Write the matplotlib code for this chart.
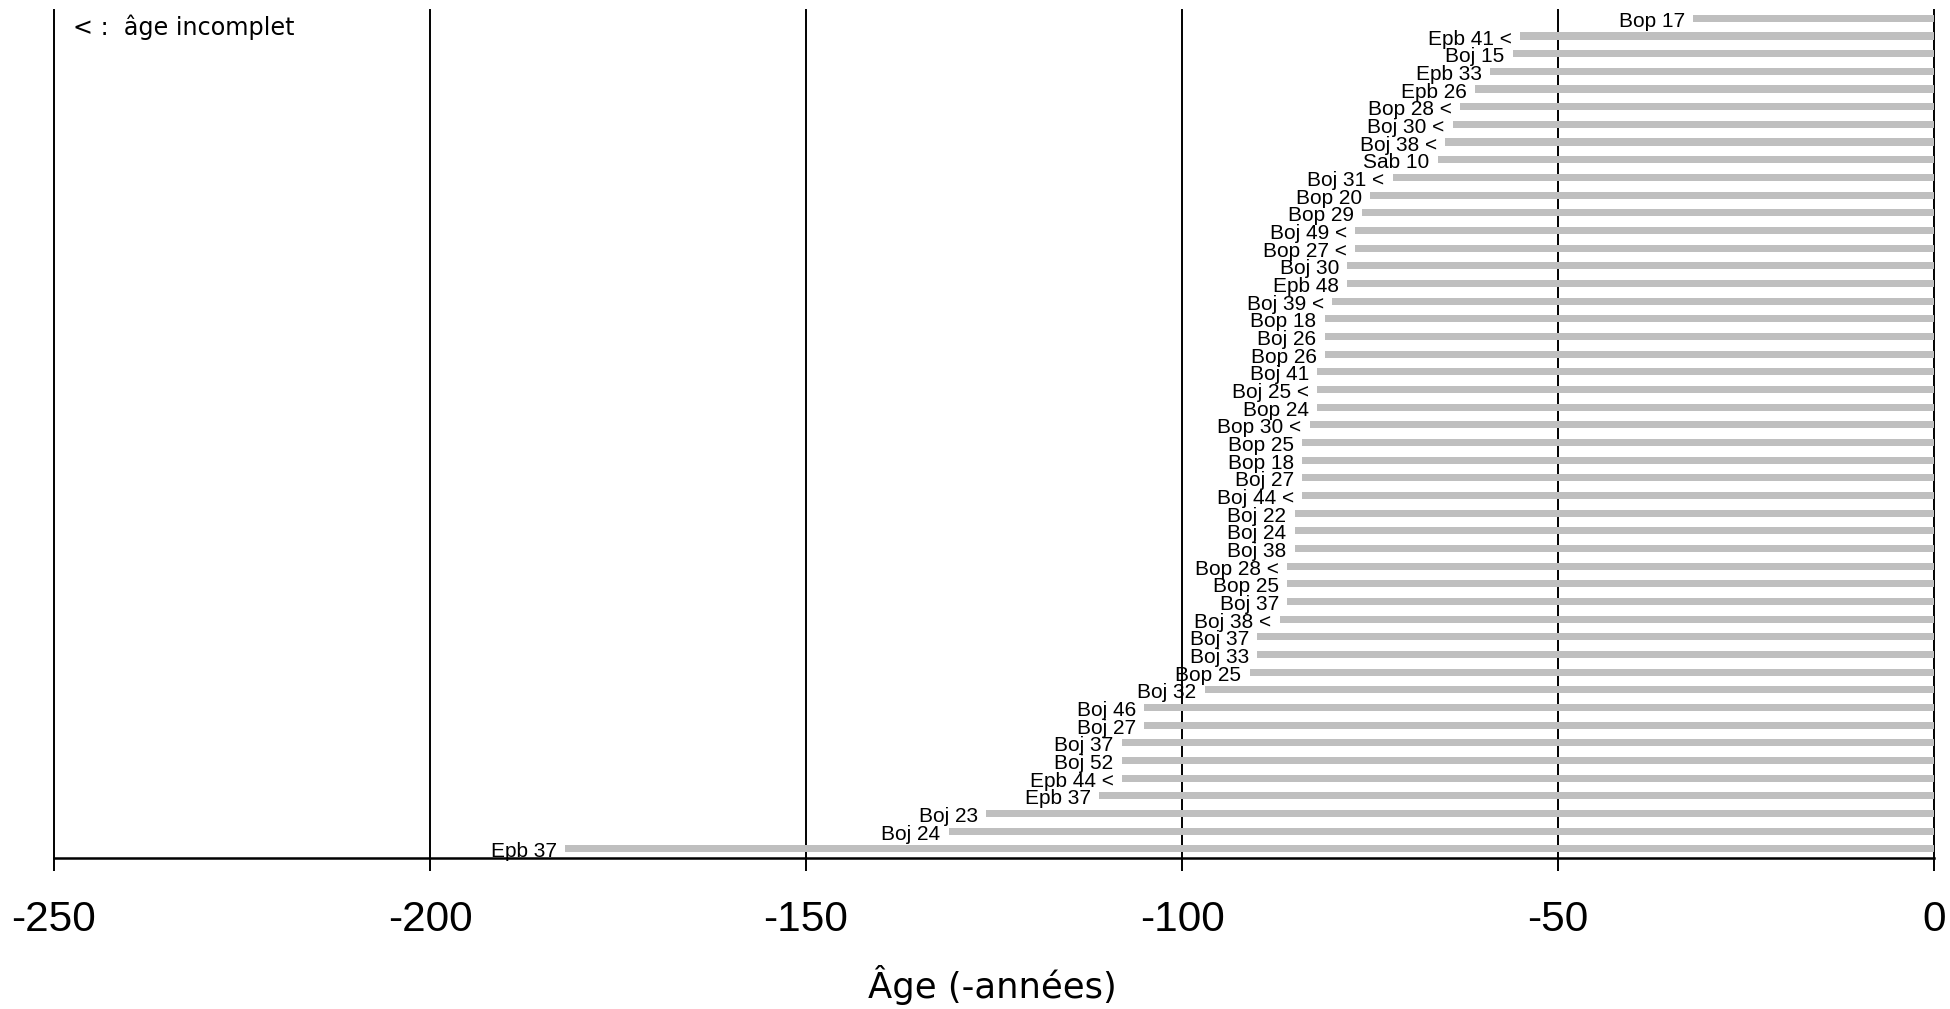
import matplotlib
matplotlib.use("Agg")
import matplotlib.pyplot as plt

# Data (top to bottom)
labels = ["Bop 17", "Epb 41 <", "Boj 15", "Epb 33", "Epb 26", "Bop 28 <", "Boj 30 <",
          "Boj 38 <", "Sab 10", "Boj 31 <", "Bop 20", "Bop 29", "Boj 49 <", "Bop 27 <",
          "Boj 30", "Epb 48", "Boj 39 <", "Bop 18", "Boj 26", "Bop 26", "Boj 41",
          "Boj 25 <", "Bop 24", "Bop 30 <", "Bop 25", "Bop 18", "Boj 27", "Boj 44 <",
          "Boj 22", "Boj 24", "Boj 38", "Bop 28 <", "Bop 25", "Boj 37", "Boj 38 <",
          "Boj 37", "Boj 33", "Bop 25", "Boj 32", "Boj 46", "Boj 27", "Boj 37",
          "Boj 52", "Epb 44 <", "Epb 37", "Boj 23", "Boj 24", "Epb 37"]
ages = [-32, -55, -56, -59, -61, -63, -64, -65, -66, -72, -75, -76, -77, -77,
        -78, -78, -80, -81, -81, -81, -82, -82, -82, -83, -84, -84, -84, -84,
        -85, -85, -85, -86, -86, -86, -87, -90, -90, -91, -97, -105, -105, -108,
        -108, -108, -111, -126, -131, -182]
xticks = [-250, -200, -150, -100, -50, 0]
xlabel = "Âge (-années)"
note = "< :  âge incomplet"

W, H = 1950, 1009
fig = plt.figure(figsize=(W / 100, H / 100), dpi=100)
left, right = 54 / W, 1934 / W
bottom, top = 1 - 857.7 / H, 1 - 9.5 / H
ax = fig.add_axes([left, bottom, right - left, top - bottom])

n = len(ages)
pos = list(range(1, n + 1))

for xv in xticks:
    ax.axvline(xv, color="black", lw=1.4, zorder=1, clip_on=False)

ax.barh(pos, [-a for a in ages], left=ages, height=0.4, color="#BFBFBF",
        edgecolor="none", zorder=2)

for p, a, lab in zip(pos, ages, labels):
    ax.annotate(lab, xy=(a, p), xytext=(-6, -2.2), textcoords="offset points",
                ha="right", va="center", fontsize=15, family="Liberation Sans",
                color="black", annotation_clip=False, zorder=3)

ax.set_xlim(-250, 0)
ax.set_ylim(n + 0.5, 0.5)
ax.set_xticks(xticks)
ax.set_xticklabels([str(t) for t in xticks], fontsize=30.5, family="Liberation Sans")
ax.set_yticks([])
for s in ["top", "left", "right"]:
    ax.spines[s].set_visible(False)
ax.spines["bottom"].set_linewidth(1.8)
ax.tick_params(axis="x", direction="out", length=9.4, width=1.4, pad=21)

fig.text(992 / W, 11 / H, xlabel, ha="center", va="baseline", fontsize=25.5,
         family="DejaVu Sans")
fig.text(72.7 / W, 1 - 35 / H, note, ha="left", va="baseline", fontsize=17.2,
         family="DejaVu Sans")

fig.savefig("out.png", dpi=100)
